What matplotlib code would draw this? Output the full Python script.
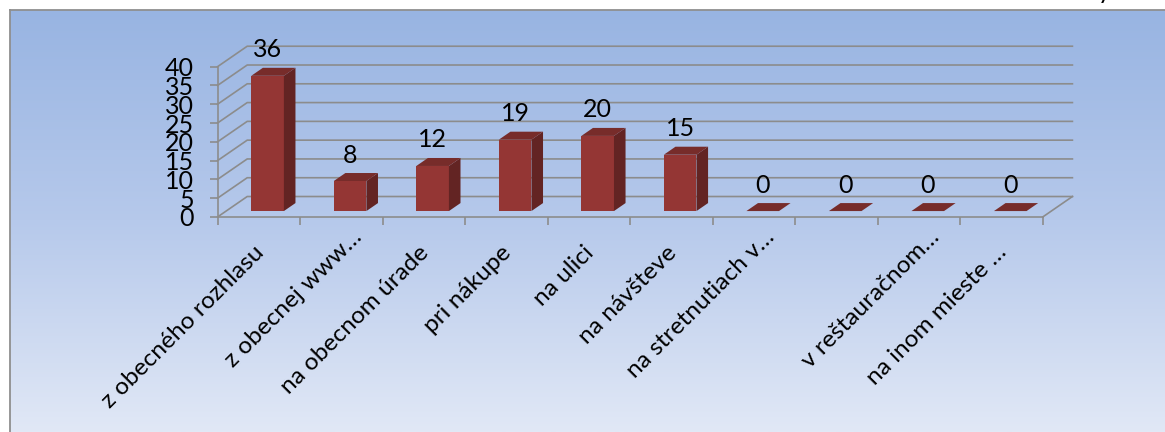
import numpy as np
import matplotlib
matplotlib.use("Agg")
import matplotlib.pyplot as plt

W, H = 1165, 432
categories = ["z obecného rozhlasu", "z obecnej www…", "na obecnom úrade", "pri nákupe", "na ulici",
              "na návšteve", "na stretnutiach v…", "", "v reštauračnom…", "na inom mieste …"]
values = [36, 8, 12, 19, 20, 15, 0, 0, 0, 0]
y_ticks = [0, 5, 10, 15, 20, 25, 30, 35, 40]

FRONT, SIDE, TOP = "#943634", "#632423", "#772C2A"
GRID = "#8C8C8C"
plt.rcParams["font.family"] = ["Lato", "DejaVu Sans"]

# depth of the fake 3d box, in data units of the front plane
DX, DY = 0.36, 5.45
BAR_X0, BAR_W = 0.305, 0.395
D0, D1 = 0.29, 0.68


def box(x, y, d):
    return x + d * DX, y + d * DY


def px_axes(fig, x0, y0, x1, y1):
    return fig.add_axes([x0 / W, 1 - y1 / H, (x1 - x0) / W, (y1 - y0) / H])


fig = plt.figure(figsize=(W / 100, H / 100), dpi=100, facecolor="white")

bg = px_axes(fig, 9.5, 9.5, W, H)
bg.imshow(np.linspace(0, 1, 256)[:, None], aspect="auto", extent=(0, 1, 0, 1),
          cmap=matplotlib.colors.LinearSegmentedColormap.from_list("bg", ["#98B4E2", "#B6C9EB", "#E1E8F6"]))
bg.set_xticks([]); bg.set_yticks([])
for s in ["right", "bottom"]:
    bg.spines[s].set_visible(False)
for s in ["left", "top"]:
    bg.spines[s].set_color("#8F8F8F"); bg.spines[s].set_linewidth(1.3)

ax = px_axes(fig, 217.5, 66.7, 1042.7, 217)
ax.patch.set_visible(False)
ax.set_xlim(0, 10); ax.set_ylim(0, 40)
for s in ["top", "right"]:
    ax.spines[s].set_visible(False)
for s in ["left", "bottom"]:
    ax.spines[s].set_color(GRID); ax.spines[s].set_linewidth(1.2)

# walls
n = len(values)
for v in y_ticks:
    bx, by = box(0, v, 1)
    ex, _ = box(n, v, 1)
    ax.plot([0, bx, ex], [v, by, by], color=GRID, lw=1.2, clip_on=False, zorder=1, solid_joinstyle="miter")
rx, ry = box(n, 0, 1)
ax.plot([n, rx], [0, ry], color=GRID, lw=1.2, clip_on=False, zorder=1)

# bars
for i, v in enumerate(values):
    x0 = i + BAR_X0
    x1 = x0 + BAR_W
    fx0, fy = box(x0, 0, D0)
    fx1, _ = box(x1, 0, D0)
    bx0, by = box(x0, 0, D1)
    bx1, _ = box(x1, 0, D1)
    ax.bar(fx0, v, width=fx1 - fx0, bottom=fy, align="edge", color=FRONT, zorder=3, clip_on=False)
    ax.fill([fx1, bx1, bx1, fx1], [fy, by, by + v, fy + v], color=SIDE, lw=0, zorder=3, clip_on=False)
    ax.fill([fx0, fx1, bx1, bx0], [fy + v, fy + v, by + v, by + v], color=TOP, lw=0, zorder=3, clip_on=False)
    ax.annotate(str(v), ((fx0 + fx1) / 2, fy + v), xytext=(0, 28), textcoords="offset pixels",
                ha="center", va="center_baseline", fontsize=18, color="black", zorder=4, annotation_clip=False)

ax.set_xticks(np.arange(n + 1))
ax.set_xticklabels([])
ax.set_yticks(y_ticks)
ax.set_yticklabels([str(v) for v in y_ticks], fontsize=18, va="center_baseline")
ax.tick_params(axis="both", color=GRID, width=1.2, length=5.8)
ax.tick_params(axis="y", pad=11)

for i, label in enumerate(categories):
    # labels cut with a tight ellipsis sit further up the slope in the original
    nudge = 15 if label.endswith("…") and not label.endswith(" …") else 0
    ax.annotate(label, (i + 0.5, 0), xytext=(2 + nudge, -32 + nudge), textcoords="offset pixels", rotation=45,
                rotation_mode="anchor", ha="right", va="center", fontsize=17.6, annotation_clip=False)

# clipped descender of the page text above the chart
fig.text(1104 / W, 1 + 1 / H, "y", ha="center", va="baseline", fontsize=18, color="black")

fig.savefig("out.png", dpi=100)
